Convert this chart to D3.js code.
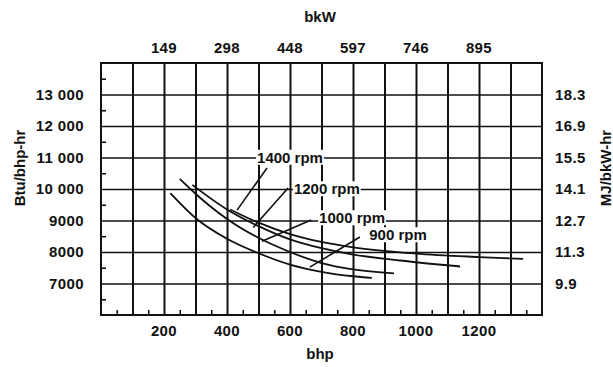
<!DOCTYPE html>
<html>
<head>
<meta charset="utf-8">
<script src="https://cdn.jsdelivr.net/npm/d3@7"></script>
<style>
body { margin: 0; background: #fff; }
text { font-family: "Liberation Sans", Arial, sans-serif; fill: #111; }
</style>
</head>
<body>
<div id="chart"></div>
<script>
// tick values and labels
var bhpTicks = [200, 400, 600, 800, 1000, 1200];
var bkwLabels = ["149", "298", "448", "597", "746", "895"];
var btuTicks = [7000, 8000, 9000, 10000, 11000, 12000, 13000];
var btuLabels = ["7000", "8000", "9000", "10 000", "11 000", "12 000", "13 000"];
var mjLabels = ["9.9", "11.3", "12.7", "14.1", "15.5", "16.9", "18.3"];

// curves: [bhp, Btu/bhp-hr]
var rpm900 = [[220, 9870], [300, 9080], [400, 8420], [500, 7960], [600, 7600], [700, 7370], [800, 7230], [860, 7180]];
var rpm1000 = [[250, 10320], [300, 9850], [400, 9050], [500, 8450], [600, 8000], [700, 7650], [800, 7450], [930, 7320]];
var rpm1200 = [[290, 10130], [400, 9350], [500, 8820], [600, 8400], [700, 8120], [800, 7920], [950, 7730], [1140, 7540]];
var rpm1400 = [[410, 9350], [500, 8930], [600, 8570], [700, 8320], [800, 8150], [1000, 7950], [1200, 7840], [1340, 7780]];

// labels: text, bhp, Btu, leader from, leader to
var rpmLabels = ["1400 rpm", "1200 rpm", "1000 rpm", "900 rpm"];
var labelPos = [[600, 11000], [717, 10000], [797, 9080], [943, 8540]];
var leaders = [
  [[527, 10667], [432, 9330]],
  [[594, 10032], [483, 8780]],
  [[667, 9016], [511, 8340]],
  [[822, 8476], [663, 7520]]
];

var W = 613, H = 367;
var x = d3.scaleLinear().domain([0, 1400]).range([101, 542]);
var y = d3.scaleLinear().domain([6000, 14000]).range([315, 63]);

var svg = d3.select("#chart").append("svg")
  .attr("width", W).attr("height", H);

// grid
svg.append("g")
  .attr("transform", "translate(0," + y(6000) + ")")
  .call(d3.axisBottom(x).tickValues(d3.range(100, 1400, 100)).tickSize(-(y(6000) - y(14000))).tickFormat(""))
  .call(function(g) { g.select(".domain").remove(); })
  .selectAll("line").attr("stroke", "#111").attr("stroke-width", 2);

svg.append("g")
  .attr("transform", "translate(" + x(0) + ",0)")
  .call(d3.axisLeft(y).tickValues(btuTicks).tickSize(-(x(1400) - x(0))).tickFormat(""))
  .call(function(g) { g.select(".domain").remove(); })
  .selectAll("line").attr("stroke", "#111").attr("stroke-width", 1.6);

// minor ticks inside left and bottom
svg.append("g")
  .attr("transform", "translate(" + x(0) + ",0)")
  .call(d3.axisRight(y).tickValues(d3.range(6500, 14000, 1000)).tickSize(5).tickFormat(""))
  .call(function(g) { g.select(".domain").remove(); })
  .selectAll("line").attr("stroke", "#111").attr("stroke-width", 1.6);

svg.append("g")
  .attr("transform", "translate(0," + y(6000) + ")")
  .call(d3.axisTop(x).tickValues(d3.range(50, 1400, 100)).tickSize(5).tickFormat(""))
  .call(function(g) { g.select(".domain").remove(); })
  .selectAll("line").attr("stroke", "#111").attr("stroke-width", 1.6);

// frame
svg.append("rect")
  .attr("x", x(0)).attr("y", y(14000))
  .attr("width", x(1400) - x(0)).attr("height", y(6000) - y(14000))
  .attr("fill", "none").attr("stroke", "#111").attr("stroke-width", 2);

// curves
var line = d3.line()
  .x(function(d) { return x(d[0]); })
  .y(function(d) { return y(d[1]); })
  .curve(d3.curveMonotoneX);

svg.selectAll(".curve")
  .data([rpm900, rpm1000, rpm1200, rpm1400])
  .enter().append("path")
  .attr("class", "curve")
  .attr("d", line)
  .attr("fill", "none")
  .attr("stroke", "#111")
  .attr("stroke-width", 1.8);

// leader lines
svg.selectAll(".leader")
  .data(leaders)
  .enter().append("line")
  .attr("x1", function(d) { return x(d[0][0]); })
  .attr("y1", function(d) { return y(d[0][1]); })
  .attr("x2", function(d) { return x(d[1][0]); })
  .attr("y2", function(d) { return y(d[1][1]); })
  .attr("stroke", "#111")
  .attr("stroke-width", 1.6);

// rpm labels with white box over grid
var lab = svg.selectAll(".rpm")
  .data(rpmLabels)
  .enter().append("g")
  .attr("class", "rpm")
  .attr("transform", function(d, i) { return "translate(" + x(labelPos[i][0]) + "," + y(labelPos[i][1]) + ")"; });
lab.append("text")
  .attr("text-anchor", "middle")
  .attr("dy", "0.35em")
  .style("font-size", "15px")
  .style("font-weight", "bold")
  .text(function(d) { return d; });
lab.insert("rect", "text")
  .each(function() {
    var b = this.parentNode.querySelector("text").getBBox();
    d3.select(this).attr("x", b.x - 1).attr("y", b.y + 1).attr("width", b.width + 2).attr("height", b.height - 2);
  })
  .attr("fill", "#fff");

// tick labels
var fs = "15px", ls = "0.4px";
svg.append("g").selectAll("text")
  .data(bhpTicks).enter().append("text")
  .attr("x", function(d) { return x(d); })
  .attr("y", 336)
  .attr("text-anchor", "middle")
  .style("font-size", fs).style("font-weight", "bold").style("letter-spacing", ls)
  .text(function(d) { return d; });

svg.append("g").selectAll("text")
  .data(bhpTicks).enter().append("text")
  .attr("x", function(d) { return x(d); })
  .attr("y", 53)
  .attr("text-anchor", "middle")
  .style("font-size", fs).style("font-weight", "bold").style("letter-spacing", ls)
  .text(function(d, i) { return bkwLabels[i]; });

svg.append("g").selectAll("text")
  .data(btuTicks).enter().append("text")
  .attr("x", 84)
  .attr("y", function(d) { return y(d); })
  .attr("dy", "0.35em")
  .attr("text-anchor", "end")
  .style("font-size", fs).style("font-weight", "bold").style("letter-spacing", ls)
  .text(function(d, i) { return btuLabels[i]; });

svg.append("g").selectAll("text")
  .data(btuTicks).enter().append("text")
  .attr("x", 555)
  .attr("y", function(d) { return y(d); })
  .attr("dy", "0.35em")
  .style("font-size", fs).style("font-weight", "bold").style("letter-spacing", ls)
  .text(function(d, i) { return mjLabels[i]; });

// axis titles
svg.append("text").attr("x", 320).attr("y", 359).attr("text-anchor", "middle")
  .style("font-size", fs).style("font-weight", "bold").text("bhp");
svg.append("text").attr("x", 320).attr("y", 22).attr("text-anchor", "middle")
  .style("font-size", fs).style("font-weight", "bold").text("bkW");
svg.append("text").attr("transform", "translate(25,168)rotate(-90)").attr("text-anchor", "middle")
  .style("font-size", fs).style("font-weight", "bold").text("Btu/bhp-hr");
svg.append("text").attr("transform", "translate(611,168)rotate(-90)").attr("text-anchor", "middle")
  .style("font-size", fs).style("font-weight", "bold").text("MJ/bkW-hr");
</script>
</body>
</html>
